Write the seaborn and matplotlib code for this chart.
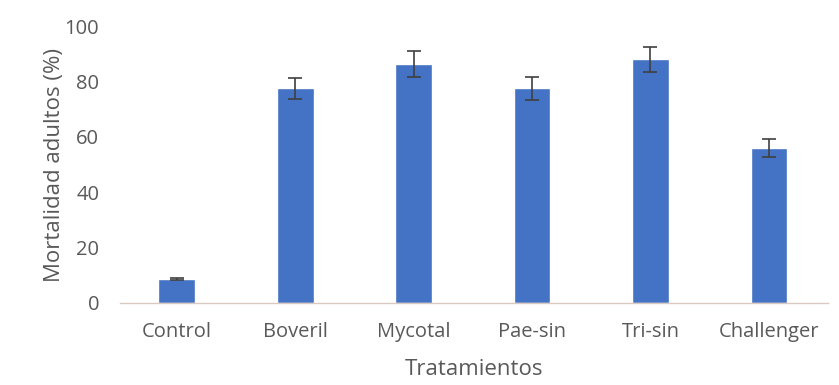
import matplotlib
matplotlib.use("Agg")
import matplotlib.pyplot as plt
import seaborn as sns
import pandas as pd

categories = ["Control", "Boveril", "Mycotal", "Pae-sin", "Tri-sin", "Challenger"]
mortality = [8.7, 77.5, 86.3, 77.5, 88.0, 56.0]
errors = [0.3, 3.7, 4.6, 4.0, 4.4, 3.2]
y_ticks = [0, 20, 40, 60, 80, 100]

sns.set_theme(style="white")
plt.rcParams["font.family"] = ["Open Sans", "DejaVu Sans"]

df = pd.DataFrame({"Tratamientos": categories, "Mortalidad": mortality})

fig = plt.figure(figsize=(8.39, 3.85), dpi=100)
ax = fig.add_axes([0.143, 0.213, 0.844, 0.719])

sns.barplot(data=df, x="Tratamientos", y="Mortalidad", color="#4472C4",
            width=0.31, errorbar=None, ax=ax, saturation=1)
ax.errorbar(x=range(len(categories)), y=mortality, yerr=errors, fmt="none",
            ecolor="#404040", elinewidth=1.2, capsize=5, capthick=1.2)

ax.set_xlim(-0.48, 5.5)
ax.set_ylim(0, 100)
ax.set_yticks(y_ticks)
ax.set_yticklabels([str(t) for t in y_ticks])
for s in ["top", "right", "left"]:
    ax.spines[s].set_visible(False)
ax.spines["bottom"].set_color("#D9C9C0")
ax.spines["bottom"].set_linewidth(1.0)
ax.tick_params(axis="both", length=0, labelsize=14.5, colors="#595959")
ax.tick_params(axis="x", pad=14)
ax.tick_params(axis="y", pad=15)
ax.set_xlabel("Tratamientos", fontsize=16, color="#595959", labelpad=12)
ax.set_ylabel("Mortalidad adultos (%)", fontsize=16, color="#595959")
ax.yaxis.set_label_coords(-0.078, 0.5)

fig.savefig("out.png", dpi=100)
